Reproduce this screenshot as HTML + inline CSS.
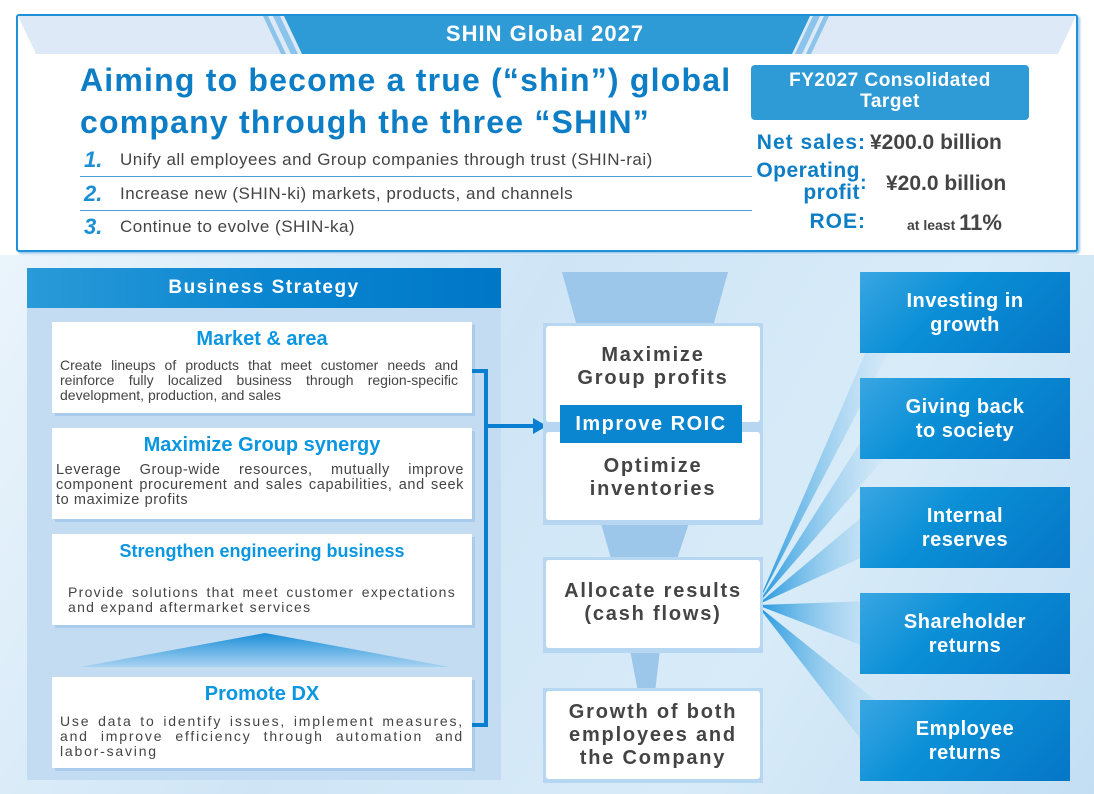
<!DOCTYPE html>
<html><head><meta charset="utf-8"><style>
*{margin:0;padding:0;box-sizing:border-box}
body{width:1094px;height:794px;overflow:hidden;background:#fff;font-family:"Liberation Sans",sans-serif;position:relative}
.a{position:absolute}
.c{text-align:center}
.card{position:absolute;background:#fff;box-shadow:3px 3px 0 #a9cbec}
.ct{color:#0a96e0;font-weight:bold;text-align:center}
.cb{color:#444;font-size:14px;line-height:15px;text-align:justify;text-align-last:left}
.mid{position:absolute;background:#fff;color:#444;font-weight:bold;font-size:20px;letter-spacing:1.8px;text-align:center;line-height:23px;border-radius:3px}
.rb{position:absolute;left:860px;width:210px;background:linear-gradient(135deg,#3aa6e2,#0a8fd6 40%,#0676c6);color:#fff;font-weight:bold;font-size:20px;text-align:center;line-height:24px;display:flex;align-items:center;justify-content:center;letter-spacing:.5px}
</style></head><body>
<div class="a" style="left:0;top:255px;width:1094px;height:539px;background:linear-gradient(120deg,#eaf4fb,#cfe5f6 40%,#d8ebf8 70%,#c3def3)"></div>
<div class="a" style="left:16px;top:14px;width:1062px;height:238px;border:2px solid #1e91d8;background:#fff;border-radius:3px;box-shadow:2px 2px 2px #9bc7ea"></div>
<svg class="a" style="left:18px;top:16px" width="1058" height="40">
<polygon points="0,0 1058,0 1040,38 18,38" fill="#dde9f6"/>
<polygon points="245,0 250,0 268,38 263,38" fill="#8cc3ea"/>
<polygon points="255,0 262,0 280,38 273,38" fill="#8cc3ea"/>
<polygon points="266,0 792,0 774,38 284,38" fill="#2e9ad6"/>
<polygon points="795,0 802,0 784,38 777,38" fill="#8cc3ea"/>
<polygon points="806,0 811,0 793,38 788,38" fill="#8cc3ea"/>
</svg>
<div class="a c" style="left:290px;top:21px;width:510px;color:#fff;font-size:22px;font-weight:bold;letter-spacing:1px">SHIN Global 2027</div>
<div class="a" style="left:80px;top:59px;color:#0d7ec6;font-size:32px;font-weight:bold;line-height:42px;letter-spacing:1.2px">Aiming to become a true (“shin”) global<br>company through the three “SHIN”</div>
<div class="a" style="left:84px;top:147px;color:#1a8fd6;font-size:22px;font-weight:bold;font-style:italic">1.</div>
<div class="a" style="left:120px;top:150px;color:#444;font-size:17px;letter-spacing:.5px">Unify all employees and Group companies through trust (SHIN-rai)</div>
<div class="a" style="left:80px;top:176px;width:672px;height:1px;background:#4a9fd8"></div>
<div class="a" style="left:84px;top:181px;color:#1a8fd6;font-size:22px;font-weight:bold;font-style:italic">2.</div>
<div class="a" style="left:120px;top:184px;color:#444;font-size:17px;letter-spacing:.5px">Increase new (SHIN-ki) markets, products, and channels</div>
<div class="a" style="left:80px;top:210px;width:672px;height:1px;background:#4a9fd8"></div>
<div class="a" style="left:84px;top:214px;color:#1a8fd6;font-size:22px;font-weight:bold;font-style:italic">3.</div>
<div class="a" style="left:120px;top:217px;color:#444;font-size:17px;letter-spacing:.5px">Continue to evolve (SHIN-ka)</div>
<div class="a c" style="left:751px;top:65px;width:278px;height:55px;background:#2e9ad6;border-radius:4px;color:#fff;font-size:19px;font-weight:bold;line-height:21px;padding-top:5px;letter-spacing:.5px">FY2027 Consolidated<br>Target</div>
<div class="a" style="left:745px;top:131px;width:121px;text-align:right;color:#0d7ec6;font-size:21px;font-weight:bold;letter-spacing:1px">Net sales:</div>
<div class="a" style="left:870px;top:131px;color:#444;font-size:21px;font-weight:bold">¥200.0 billion</div>
<div class="a" style="left:740px;top:160px;width:120px;text-align:right;color:#0d7ec6;font-size:21px;font-weight:bold;line-height:22px;letter-spacing:.5px">Operating<br>profit</div>
<div class="a" style="left:860px;top:172px;color:#0d7ec6;font-size:20px;font-weight:bold">:</div>
<div class="a" style="left:886px;top:172px;color:#444;font-size:21px;font-weight:bold">¥20.0 billion</div>
<div class="a" style="left:752px;top:210px;width:114px;text-align:right;color:#0d7ec6;font-size:21px;font-weight:bold;letter-spacing:1px">ROE:</div>
<div class="a" style="left:907px;top:210px;color:#444;font-weight:bold"><span style="font-size:14px">at least </span><span style="font-size:22px">11%</span></div>

<div class="a" style="left:27px;top:268px;width:474px;height:512px;background:#c3dcf2"></div>
<div class="a c" style="left:27px;top:268px;width:474px;height:40px;background:linear-gradient(90deg,#2a9ad8,#0a86d0 50%,#0077c7);color:#fff;font-size:19px;font-weight:bold;line-height:40px;letter-spacing:1.5px">Business Strategy</div>
<div class="card" style="left:52px;top:322px;width:420px;height:91px">
<div class="ct" style="font-size:20px;margin-top:6px">Market &amp; area</div>
<div class="cb" style="margin:7px 14px 0 8px">Create lineups of products that meet customer needs and reinforce fully localized business through region-specific development, production, and sales</div></div>
<div class="card" style="left:52px;top:428px;width:420px;height:91px">
<div class="ct" style="font-size:20px;margin-top:6px">Maximize Group synergy</div>
<div class="cb" style="margin:6px 8px 0 4px;font-size:14.5px;letter-spacing:.6px">Leverage Group-wide resources, mutually improve component procurement and sales capabilities, and seek to maximize profits</div></div>
<div class="card" style="left:52px;top:534px;width:420px;height:91px">
<div class="ct" style="font-size:18px;margin-top:7px">Strengthen engineering business</div>
<div class="cb" style="margin:23px 16px 0 16px;letter-spacing:1.3px">Provide solutions that meet customer expectations and expand aftermarket services</div></div>
<svg class="a" style="left:80px;top:633px" width="370" height="36"><defs><linearGradient id="tg" x1="0" y1="0" x2="0" y2="1"><stop offset="0" stop-color="#1b8fd8"/><stop offset="1" stop-color="#a9d2f1"/></linearGradient></defs><polygon points="185,0 370,34 0,34" fill="url(#tg)"/></svg>
<div class="card" style="left:52px;top:677px;width:420px;height:91px">
<div class="ct" style="font-size:20px;margin-top:6px">Promote DX</div>
<div class="cb" style="margin:8px 8px 0 8px;letter-spacing:1.8px">Use data to identify issues, implement measures, and improve efficiency through automation and labor-saving</div></div>
<svg class="a" style="left:0;top:0" width="1094" height="794">
<path d="M472 371 H486 V725 H472" fill="none" stroke="#0a7ed0" stroke-width="4"/>
<path d="M486 426 H535" stroke="#0a7ed0" stroke-width="4"/>
<polygon points="533,418 547,426 533,434" fill="#0a7ed0"/>
<polygon points="562,272 728,272 712,330 578,330" fill="#9cc6ea"/>
<polygon points="600,520 690,520 676,562 612,562" fill="#9cc6ea"/>
<polygon points="630,650 660,650 655,692 638,692" fill="#9cc6ea"/>
<defs><linearGradient id="fg" x1="0" y1="0" x2="1" y2="0"><stop offset="0" stop-color="#1f95dd"/><stop offset="1" stop-color="#d6eaf8" stop-opacity=".2"/></linearGradient></defs>
<polygon points="757,605 900,272 900,330" fill="url(#fg)"/>
<polygon points="757,605 900,380 900,440" fill="url(#fg)"/>
<polygon points="757,605 900,485 900,540" fill="url(#fg)"/>
<polygon points="757,605 900,600 900,660" fill="url(#fg)"/>
<polygon points="757,605 900,720 900,790" fill="url(#fg)"/>
</svg>
<div class="a" style="left:543px;top:323px;width:220px;height:202px;background:#b6d6f1"></div>
<div class="mid" style="left:546px;top:326px;width:214px;height:96px;padding-top:18px">Maximize<br>Group profits</div>
<div class="mid" style="left:546px;top:432px;width:214px;height:88px;padding-top:23px">Optimize<br>inventories</div>
<div class="a c" style="left:560px;top:405px;width:182px;height:38px;background:#0a86d0;color:#fff;font-size:20px;font-weight:bold;line-height:38px;letter-spacing:1.5px">Improve ROIC</div>
<div class="a" style="left:543px;top:557px;width:220px;height:96px;background:#b6d6f1"></div>
<div class="mid" style="left:546px;top:560px;width:214px;height:88px;padding-top:20px">Allocate results<br>(cash flows)</div>
<div class="a" style="left:543px;top:688px;width:220px;height:95px;background:#b6d6f1"></div>
<div class="mid" style="left:546px;top:691px;width:214px;height:88px;padding-top:10px">Growth of both<br>employees and<br>the Company</div>
<div class="rb" style="top:272px;height:81px">Investing in<br>growth</div>
<div class="rb" style="top:378px;height:81px">Giving back<br>to society</div>
<div class="rb" style="top:487px;height:81px">Internal<br>reserves</div>
<div class="rb" style="top:593px;height:81px">Shareholder<br>returns</div>
<div class="rb" style="top:700px;height:81px">Employee<br>returns</div>
</body></html>
